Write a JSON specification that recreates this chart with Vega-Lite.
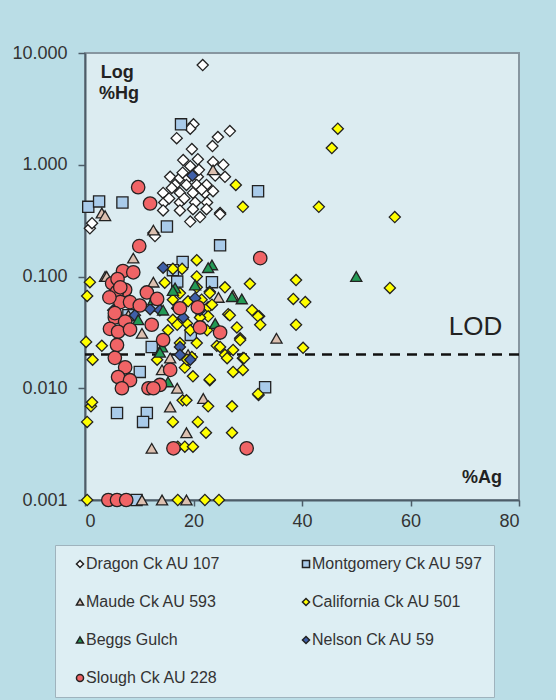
{
  "$schema": "https://vega.github.io/schema/vega-lite/v6.json",
  "width": 434,
  "height": 447,
  "autosize": {"type": "none"},
  "padding": {"left": 85, "top": 53, "right": 37, "bottom": 200},
  "background": "#badde6",
  "config": {
    "view": {"fill": "#dcecf1", "stroke": "#8796a0", "strokeWidth": 2},
    "font": "Liberation Sans"
  },
  "datasets": {
    "pts": [
      {"s":"Dragon Ck AU  107","x":21.7,"y":7.8},{"s":"Dragon Ck AU  107","x":20.0,"y":2.3},{"s":"Dragon Ck AU  107","x":19.4,"y":2.1},{"s":"Dragon Ck AU  107","x":16.9,"y":1.73},{"s":"Dragon Ck AU  107","x":26.7,"y":2.0},{"s":"Dragon Ck AU  107","x":24.5,"y":1.77},{"s":"Dragon Ck AU  107","x":23.5,"y":1.47},{"s":"Dragon Ck AU  107","x":19.7,"y":1.38},{"s":"Dragon Ck AU  107","x":18.1,"y":1.1},{"s":"Dragon Ck AU  107","x":20.8,"y":1.12},{"s":"Dragon Ck AU  107","x":19.4,"y":0.97},{"s":"Dragon Ck AU  107","x":23.6,"y":1.06},{"s":"Dragon Ck AU  107","x":25.5,"y":1.0},{"s":"Dragon Ck AU  107","x":15.7,"y":0.78},{"s":"Dragon Ck AU  107","x":17.5,"y":0.76},{"s":"Dragon Ck AU  107","x":19.0,"y":0.76},{"s":"Dragon Ck AU  107","x":20.8,"y":0.78},{"s":"Dragon Ck AU  107","x":24.0,"y":0.8},{"s":"Dragon Ck AU  107","x":25.8,"y":0.78},{"s":"Dragon Ck AU  107","x":16.6,"y":0.66},{"s":"Dragon Ck AU  107","x":18.7,"y":0.66},{"s":"Dragon Ck AU  107","x":20.6,"y":0.66},{"s":"Dragon Ck AU  107","x":22.4,"y":0.66},{"s":"Dragon Ck AU  107","x":14.4,"y":0.56},{"s":"Dragon Ck AU  107","x":17.5,"y":0.56},{"s":"Dragon Ck AU  107","x":19.9,"y":0.56},{"s":"Dragon Ck AU  107","x":22.1,"y":0.56},{"s":"Dragon Ck AU  107","x":23.6,"y":0.58},{"s":"Dragon Ck AU  107","x":14.6,"y":0.46},{"s":"Dragon Ck AU  107","x":17.5,"y":0.46},{"s":"Dragon Ck AU  107","x":20.3,"y":0.46},{"s":"Dragon Ck AU  107","x":22.5,"y":0.46},{"s":"Dragon Ck AU  107","x":14.4,"y":0.39},{"s":"Dragon Ck AU  107","x":17.5,"y":0.39},{"s":"Dragon Ck AU  107","x":19.9,"y":0.4},{"s":"Dragon Ck AU  107","x":22.4,"y":0.4},{"s":"Dragon Ck AU  107","x":24.9,"y":0.37},{"s":"Dragon Ck AU  107","x":19.4,"y":0.31},{"s":"Dragon Ck AU  107","x":21.2,"y":0.34},{"s":"Dragon Ck AU  107","x":0.9,"y":0.27},{"s":"Dragon Ck AU  107","x":1.3,"y":0.3},{"s":"Dragon Ck AU  107","x":12.6,"y":0.245},{"s":"Dragon Ck AU  107","x":12.9,"y":0.23},{"s":"Dragon Ck AU  107","x":24.9,"y":0.36},{"s":"Dragon Ck AU  107","x":18.3,"y":0.5},{"s":"Dragon Ck AU  107","x":21.0,"y":0.9},{"s":"Dragon Ck AU  107","x":15.5,"y":0.5},{"s":"Dragon Ck AU  107","x":16.0,"y":0.62},{"s":"Dragon Ck AU  107","x":21.5,"y":0.6},{"s":"Dragon Ck AU  107","x":18.0,"y":0.85},

      {"s":"Montgomery Ck AU 597","x":17.7,"y":2.3},{"s":"Montgomery Ck AU 597","x":31.9,"y":0.58},{"s":"Montgomery Ck AU 597","x":0.6,"y":0.42},{"s":"Montgomery Ck AU 597","x":2.6,"y":0.47},{"s":"Montgomery Ck AU 597","x":6.9,"y":0.46},{"s":"Montgomery Ck AU 597","x":15.1,"y":0.28},{"s":"Montgomery Ck AU 597","x":24.9,"y":0.19},{"s":"Montgomery Ck AU 597","x":18.0,"y":0.135},{"s":"Montgomery Ck AU 597","x":16.2,"y":0.114},{"s":"Montgomery Ck AU 597","x":23.4,"y":0.089},{"s":"Montgomery Ck AU 597","x":12.3,"y":0.0234},{"s":"Montgomery Ck AU 597","x":10.1,"y":0.014},{"s":"Montgomery Ck AU 597","x":33.2,"y":0.0102},{"s":"Montgomery Ck AU 597","x":5.9,"y":0.006},{"s":"Montgomery Ck AU 597","x":11.4,"y":0.006},{"s":"Montgomery Ck AU 597","x":10.7,"y":0.005},{"s":"Montgomery Ck AU 597","x":9.5,"y":0.001},{"s":"Montgomery Ck AU 597","x":13.0,"y":0.055},{"s":"Montgomery Ck AU 597","x":8.0,"y":0.045},{"s":"Montgomery Ck AU 597","x":17.0,"y":0.09},{"s":"Montgomery Ck AU 597","x":21.5,"y":0.05},{"s":"Montgomery Ck AU 597","x":19.5,"y":0.03},

      {"s":"Maude Ck AU 593","x":3.1,"y":0.37},{"s":"Maude Ck AU 593","x":3.7,"y":0.35},{"s":"Maude Ck AU 593","x":12.6,"y":0.26},{"s":"Maude Ck AU 593","x":8.9,"y":0.146},{"s":"Maude Ck AU 593","x":23.6,"y":0.9},{"s":"Maude Ck AU 593","x":3.7,"y":0.1},{"s":"Maude Ck AU 593","x":12.6,"y":0.089},{"s":"Maude Ck AU 593","x":4.0,"y":0.1},{"s":"Maude Ck AU 593","x":27.3,"y":0.068},{"s":"Maude Ck AU 593","x":24.6,"y":0.065},{"s":"Maude Ck AU 593","x":35.3,"y":0.028},{"s":"Maude Ck AU 593","x":15.7,"y":0.0068},{"s":"Maude Ck AU 593","x":21.8,"y":0.0081},{"s":"Maude Ck AU 593","x":18.7,"y":0.004},{"s":"Maude Ck AU 593","x":12.3,"y":0.0029},{"s":"Maude Ck AU 593","x":10.5,"y":0.001},{"s":"Maude Ck AU 593","x":14.2,"y":0.001},{"s":"Maude Ck AU 593","x":18.7,"y":0.001},{"s":"Maude Ck AU 593","x":17.0,"y":0.01},{"s":"Maude Ck AU 593","x":14.2,"y":0.0146},{"s":"Maude Ck AU 593","x":10.5,"y":0.031},{"s":"Maude Ck AU 593","x":15.7,"y":0.0186},{"s":"Maude Ck AU 593","x":22.0,"y":0.035},{"s":"Maude Ck AU 593","x":19.0,"y":0.02},{"s":"Maude Ck AU 593","x":8.0,"y":0.045},

      {"s":"California Ck  AU 501","x":46.6,"y":2.1},{"s":"California Ck  AU 501","x":45.5,"y":1.41},{"s":"California Ck  AU 501","x":43.1,"y":0.42},{"s":"California Ck  AU 501","x":57.1,"y":0.34},{"s":"California Ck  AU 501","x":38.9,"y":0.093},{"s":"California Ck  AU 501","x":38.4,"y":0.063},{"s":"California Ck  AU 501","x":40.6,"y":0.059},{"s":"California Ck  AU 501","x":38.9,"y":0.037},{"s":"California Ck  AU 501","x":40.2,"y":0.023},{"s":"California Ck  AU 501","x":56.2,"y":0.079},{"s":"California Ck  AU 501","x":27.8,"y":0.66},{"s":"California Ck  AU 501","x":29.1,"y":0.42},{"s":"California Ck  AU 501","x":30.4,"y":0.086},{"s":"California Ck  AU 501","x":25.8,"y":0.08},{"s":"California Ck  AU 501","x":30.8,"y":0.05},{"s":"California Ck  AU 501","x":32.1,"y":0.044},{"s":"California Ck  AU 501","x":26.4,"y":0.046},{"s":"California Ck  AU 501","x":23.0,"y":0.073},{"s":"California Ck  AU 501","x":22.7,"y":0.053},{"s":"California Ck  AU 501","x":22.7,"y":0.044},{"s":"California Ck  AU 501","x":26.7,"y":0.045},{"s":"California Ck  AU 501","x":31.9,"y":0.044},{"s":"California Ck  AU 501","x":32.3,"y":0.037},{"s":"California Ck  AU 501","x":28.0,"y":0.035},{"s":"California Ck  AU 501","x":28.6,"y":0.028},{"s":"California Ck  AU 501","x":24.3,"y":0.024},{"s":"California Ck  AU 501","x":25.8,"y":0.0199},{"s":"California Ck  AU 501","x":29.1,"y":0.0186},{"s":"California Ck  AU 501","x":27.3,"y":0.014},{"s":"California Ck  AU 501","x":29.1,"y":0.0146},{"s":"California Ck  AU 501","x":23.0,"y":0.0118},{"s":"California Ck  AU 501","x":32.0,"y":0.0087},{"s":"California Ck  AU 501","x":27.1,"y":0.0069},{"s":"California Ck  AU 501","x":22.7,"y":0.0069},{"s":"California Ck  AU 501","x":0.9,"y":0.089},{"s":"California Ck  AU 501","x":0.4,"y":0.067},{"s":"California Ck  AU 501","x":0.2,"y":0.026},{"s":"California Ck  AU 501","x":1.4,"y":0.018},{"s":"California Ck  AU 501","x":3.1,"y":0.024},{"s":"California Ck  AU 501","x":1.1,"y":0.0069},{"s":"California Ck  AU 501","x":0.4,"y":0.005},{"s":"California Ck  AU 501","x":0.4,"y":0.001},{"s":"California Ck  AU 501","x":14.7,"y":0.088},{"s":"California Ck  AU 501","x":17.9,"y":0.117},{"s":"California Ck  AU 501","x":20.6,"y":0.1},{"s":"California Ck  AU 501","x":13.3,"y":0.018},{"s":"California Ck  AU 501","x":18.4,"y":0.0153},{"s":"California Ck  AU 501","x":19.9,"y":0.0128},{"s":"California Ck  AU 501","x":23.0,"y":0.012},{"s":"California Ck  AU 501","x":18.0,"y":0.0078},{"s":"California Ck  AU 501","x":18.7,"y":0.0078},{"s":"California Ck  AU 501","x":20.8,"y":0.005},{"s":"California Ck  AU 501","x":16.2,"y":0.005},{"s":"California Ck  AU 501","x":22.3,"y":0.004},{"s":"California Ck  AU 501","x":27.1,"y":0.004},{"s":"California Ck  AU 501","x":17.1,"y":0.003},{"s":"California Ck  AU 501","x":18.4,"y":0.003},{"s":"California Ck  AU 501","x":19.9,"y":0.003},{"s":"California Ck  AU 501","x":17.1,"y":0.001},{"s":"California Ck  AU 501","x":22.1,"y":0.001},{"s":"California Ck  AU 501","x":24.7,"y":0.001},{"s":"California Ck  AU 501","x":31.9,"y":0.0089},{"s":"California Ck  AU 501","x":29.3,"y":0.0186},{"s":"California Ck  AU 501","x":16.2,"y":0.062},{"s":"California Ck  AU 501","x":17.5,"y":0.071},{"s":"California Ck  AU 501","x":20.6,"y":0.08},{"s":"California Ck  AU 501","x":23.0,"y":0.071},{"s":"California Ck  AU 501","x":16.2,"y":0.041},{"s":"California Ck  AU 501","x":18.8,"y":0.038},{"s":"California Ck  AU 501","x":21.2,"y":0.043},{"s":"California Ck  AU 501","x":22.5,"y":0.033},{"s":"California Ck  AU 501","x":17.5,"y":0.0254},{"s":"California Ck  AU 501","x":20.6,"y":0.0254},{"s":"California Ck  AU 501","x":24.9,"y":0.0234},{"s":"California Ck  AU 501","x":27.3,"y":0.022},{"s":"California Ck  AU 501","x":28.6,"y":0.027},{"s":"California Ck  AU 501","x":19.7,"y":0.019},{"s":"California Ck  AU 501","x":18.8,"y":0.018},{"s":"California Ck  AU 501","x":17.0,"y":0.052},{"s":"California Ck  AU 501","x":19.4,"y":0.033},{"s":"California Ck  AU 501","x":26.2,"y":0.0186},{"s":"California Ck  AU 501","x":16.2,"y":0.117},{"s":"California Ck  AU 501","x":23.4,"y":0.056},{"s":"California Ck  AU 501","x":20.6,"y":0.14},{"s":"California Ck  AU 501","x":17.0,"y":0.037},{"s":"California Ck  AU 501","x":19.0,"y":0.06},{"s":"California Ck  AU 501","x":21.5,"y":0.062},{"s":"California Ck  AU 501","x":15.3,"y":0.033},{"s":"California Ck  AU 501","x":1.3,"y":0.0075},

      {"s":"Nelson Ck  AU 59","x":14.4,"y":0.12},{"s":"Nelson Ck  AU 59","x":5.2,"y":0.05},{"s":"Nelson Ck  AU 59","x":12.0,"y":0.051},{"s":"Nelson Ck  AU 59","x":17.5,"y":0.0234},{"s":"Nelson Ck  AU 59","x":21.2,"y":0.05},{"s":"Nelson Ck  AU 59","x":9.2,"y":0.045},{"s":"Nelson Ck  AU 59","x":18.1,"y":0.043},{"s":"Nelson Ck  AU 59","x":17.5,"y":0.0199},{"s":"Nelson Ck  AU 59","x":19.4,"y":0.018},{"s":"Nelson Ck  AU 59","x":13.8,"y":0.05},{"s":"Nelson Ck  AU 59","x":17.1,"y":0.052},{"s":"Nelson Ck  AU 59","x":20.3,"y":0.064},{"s":"Nelson Ck  AU 59","x":19.8,"y":0.8},

      {"s":"Beggs Gulch","x":50.0,"y":0.1},{"s":"Beggs Gulch","x":23.4,"y":0.127},{"s":"Beggs Gulch","x":16.6,"y":0.079},{"s":"Beggs Gulch","x":20.3,"y":0.084},{"s":"Beggs Gulch","x":22.7,"y":0.12},{"s":"Beggs Gulch","x":12.6,"y":0.062},{"s":"Beggs Gulch","x":14.4,"y":0.05},{"s":"Beggs Gulch","x":28.9,"y":0.063},{"s":"Beggs Gulch","x":27.1,"y":0.066},{"s":"Beggs Gulch","x":16.2,"y":0.075},{"s":"Beggs Gulch","x":24.0,"y":0.038},{"s":"Beggs Gulch","x":9.8,"y":0.041},{"s":"Beggs Gulch","x":14.2,"y":0.0234},{"s":"Beggs Gulch","x":15.3,"y":0.0114},{"s":"Beggs Gulch","x":13.8,"y":0.021}
    ],
    "slough": [
      {"s":"Slough Ck AU 228","x":9.8,"y":0.63},{"s":"Slough Ck AU 228","x":12.0,"y":0.45},{"s":"Slough Ck AU 228","x":32.3,"y":0.146},{"s":"Slough Ck AU 228","x":10.0,"y":0.187},{"s":"Slough Ck AU 228","x":7.0,"y":0.112},{"s":"Slough Ck AU 228","x":8.9,"y":0.109},{"s":"Slough Ck AU 228","x":5.0,"y":0.087},{"s":"Slough Ck AU 228","x":7.4,"y":0.076},{"s":"Slough Ck AU 228","x":5.9,"y":0.073},{"s":"Slough Ck AU 228","x":11.4,"y":0.072},{"s":"Slough Ck AU 228","x":13.3,"y":0.063},{"s":"Slough Ck AU 228","x":6.5,"y":0.059},{"s":"Slough Ck AU 228","x":8.3,"y":0.059},{"s":"Slough Ck AU 228","x":10.1,"y":0.055},{"s":"Slough Ck AU 228","x":17.5,"y":0.052},{"s":"Slough Ck AU 228","x":20.8,"y":0.053},{"s":"Slough Ck AU 228","x":5.5,"y":0.043},{"s":"Slough Ck AU 228","x":5.5,"y":0.047},{"s":"Slough Ck AU 228","x":7.4,"y":0.0395},{"s":"Slough Ck AU 228","x":4.6,"y":0.034},{"s":"Slough Ck AU 228","x":6.1,"y":0.032},{"s":"Slough Ck AU 228","x":8.3,"y":0.0335},{"s":"Slough Ck AU 228","x":5.9,"y":0.0244},{"s":"Slough Ck AU 228","x":12.3,"y":0.037},{"s":"Slough Ck AU 228","x":14.4,"y":0.027},{"s":"Slough Ck AU 228","x":21.2,"y":0.035},{"s":"Slough Ck AU 228","x":24.9,"y":0.0315},{"s":"Slough Ck AU 228","x":5.5,"y":0.0187},{"s":"Slough Ck AU 228","x":7.4,"y":0.0154},{"s":"Slough Ck AU 228","x":6.1,"y":0.0126},{"s":"Slough Ck AU 228","x":8.3,"y":0.0118},{"s":"Slough Ck AU 228","x":6.8,"y":0.01},{"s":"Slough Ck AU 228","x":15.7,"y":0.0146},{"s":"Slough Ck AU 228","x":13.8,"y":0.0107},{"s":"Slough Ck AU 228","x":11.7,"y":0.01},{"s":"Slough Ck AU 228","x":12.6,"y":0.01},{"s":"Slough Ck AU 228","x":16.3,"y":0.0029},{"s":"Slough Ck AU 228","x":29.8,"y":0.0029},{"s":"Slough Ck AU 228","x":4.3,"y":0.001},{"s":"Slough Ck AU 228","x":5.9,"y":0.001},{"s":"Slough Ck AU 228","x":7.6,"y":0.001},{"s":"Slough Ck AU 228","x":6.0,"y":0.095},{"s":"Slough Ck AU 228","x":4.5,"y":0.065},{"s":"Slough Ck AU 228","x":6.5,"y":0.08}
    ],
    "lodtext": [{"t":"LOD","x":72,"y":0.035}],
    "agtext": [{"t":"%Ag","x":73.2,"y":0.00157}],
    "hgtext": [{"t":"Log","x":2.9,"y":6.6},{"t":"%Hg","x":2.6,"y":4.3}],
    "lod": [{"y":0.02}]
  },
  "layer": [
    {
      "data": {"name": "lod"},
      "mark": {"type": "rule", "strokeDash": [10, 7], "strokeWidth": 2.5, "color": "#111"},
      "encoding": {
        "y": {"field": "y", "type": "quantitative", "scale": {"type": "log", "domain": [0.001, 10]}}
      }
    },
    {
      "data": {"name": "pts"},
      "mark": {"type": "point", "filled": true, "stroke": "#222", "strokeWidth": 1.3, "opacity": 1, "clip": false, "size": 125},
      "encoding": {
        "x": {"field": "x", "type": "quantitative",
              "scale": {"domain": [0, 80], "nice": false},
              "axis": {"values": [0, 20, 40, 60, 80], "title": null, "grid": false,
                       "labelFontSize": 18, "labelColor": "#333", "labelFont": "Liberation Sans",
                       "domainColor": "#4d5d68", "domainWidth": 2, "tickColor": "#4d5d68", "tickWidth": 1.5, "tickSize": 6, "labelPadding": 6}},
        "y": {"field": "y", "type": "quantitative",
              "scale": {"type": "log", "domain": [0.001, 10], "nice": false},
              "axis": {"values": [0.001, 0.01, 0.1, 1, 10], "format": ".3f", "title": null, "grid": false,
                       "labelFontSize": 18, "labelColor": "#333", "labelFont": "Liberation Sans",
                       "domainColor": "#4d5d68", "domainWidth": 2, "tickColor": "#4d5d68", "tickWidth": 1.5, "tickSize": 7, "labelPadding": 11}},
        "fill": {"field": "s", "type": "nominal",
                 "scale": {"domain": ["Dragon Ck AU  107", "Montgomery Ck AU 597", "Maude Ck AU 593", "California Ck  AU 501", "Beggs Gulch", "Nelson Ck  AU 59", "Slough Ck AU 228"],
                           "range": ["#ffffff", "#a9cbea", "#dcc0b0", "#ffff00", "#239a55", "#3f5fa8", "#f06466"]},
                 "legend": {"title": null, "orient": "none", "legendX": -30, "legendY": 492, "direction": "horizontal",
                            "columns": 2, "gridAlign": "all", "columnPadding": 35, "rowPadding": 22, "padding": 11,
                            "fillColor": "#ddeef3", "strokeColor": "#9fb3bd", "labelFontSize": 16, "labelColor": "#333",
                            "labelFont": "Liberation Sans", "labelLimit": 300, "symbolSize": 50, "symbolStrokeColor": "#222",
                            "symbolStrokeWidth": 1.5, "symbolOffset": 6, "labelOffset": -2,
                            "encode": {"symbols": {"update": {"size": {"value": 50}, "stroke": {"value": "#222"}, "strokeWidth": {"value": 1.5}}}}}},
        "shape": {"field": "s", "type": "nominal",
                  "scale": {"domain": ["Dragon Ck AU  107", "Montgomery Ck AU 597", "Maude Ck AU 593", "California Ck  AU 501", "Beggs Gulch", "Nelson Ck  AU 59", "Slough Ck AU 228"],
                            "range": ["diamond", "square", "triangle-up", "diamond", "triangle-up", "diamond", "circle"]}}
      }
    },
    {
      "data": {"name": "slough"},
      "mark": {"type": "point", "filled": true, "stroke": "#222", "strokeWidth": 1.3, "opacity": 1, "clip": false, "size": 180},
      "encoding": {
        "x": {"field": "x", "type": "quantitative"},
        "y": {"field": "y", "type": "quantitative"},
        "fill": {"field": "s", "type": "nominal"},
        "shape": {"field": "s", "type": "nominal"}
      }
    },
    {
      "data": {"name": "lodtext"},
      "mark": {"type": "text", "font": "Liberation Sans", "color": "#222", "baseline": "middle", "align": "center", "fontSize": 26},
      "encoding": {
        "x": {"field": "x", "type": "quantitative"},
        "y": {"field": "y", "type": "quantitative"},
        "text": {"field": "t"}
      }
    },
    {
      "data": {"name": "agtext"},
      "mark": {"type": "text", "font": "Liberation Sans", "color": "#222", "baseline": "middle", "align": "center", "fontSize": 18, "fontWeight": "bold"},
      "encoding": {
        "x": {"field": "x", "type": "quantitative"},
        "y": {"field": "y", "type": "quantitative"},
        "text": {"field": "t"}
      }
    },
    {
      "data": {"name": "hgtext"},
      "mark": {"type": "text", "font": "Liberation Sans", "color": "#222", "baseline": "middle", "align": "left", "fontSize": 18, "fontWeight": "bold"},
      "encoding": {
        "x": {"field": "x", "type": "quantitative"},
        "y": {"field": "y", "type": "quantitative"},
        "text": {"field": "t"}
      }
    }
  ]
}
